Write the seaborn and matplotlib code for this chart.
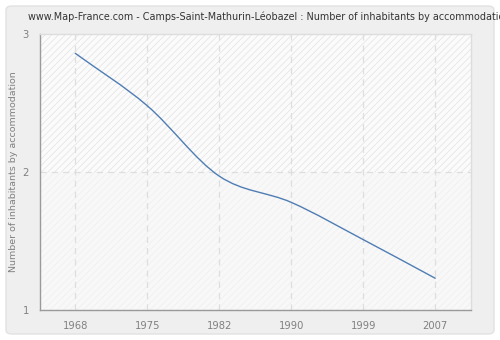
import numpy as np
import pandas as pd
import matplotlib
matplotlib.use("Agg")
import matplotlib.pyplot as plt
from matplotlib.path import Path
from matplotlib.patches import PathPatch, FancyBboxPatch, Rectangle
import seaborn as sns

years = ["1968", "1975", "1982", "1990", "1999", "2007"]
inhabitants = [2.86, 2.48, 1.97, 1.78, 1.51, 1.23]
y_ticks = [1, 2, 3]

title = "www.Map-France.com - Camps-Saint-Mathurin-Léobazel : Number of inhabitants by accommodation"
y_label = "Number of inhabitants by accommodation"

sns.set_theme(style="white")
plt.rcParams["font.family"] = ["DejaVu Sans"]
plt.rcParams["hatch.linewidth"] = 0.6

df = pd.DataFrame({"year": years, "value": inhabitants})

fig = plt.figure(figsize=(5.0, 3.4), dpi=100)
fig.patch.set_facecolor("white")

# rounded light-grey panel behind everything
panel = FancyBboxPatch((6 / 500, 6 / 340), 488 / 500, 328 / 340,
                       boxstyle="round,pad=0,rounding_size=0.012",
                       transform=fig.transFigure, facecolor="#efefef",
                       edgecolor="#e2e2e2", linewidth=1.0, zorder=-10)
fig.add_artist(panel)

ax = fig.add_axes([40 / 500, 30 / 340, 430.5 / 500, 276 / 340])
ax.set_zorder(1)
ax.set_facecolor("#fbfbfb")

sns.lineplot(data=df, x="year", y="value", ax=ax, color="#4f7db3",
             linewidth=1.0, sort=False)

# smooth the drawn line with a Catmull-Rom Bezier through the same points
line = ax.lines[0]
xs = np.asarray(line.get_xdata(), dtype=float)
ys = np.asarray(line.get_ydata(), dtype=float)
h = np.diff(xs)
m = np.zeros_like(ys)
m[0] = (ys[1] - ys[0]) / h[0]
m[-1] = (ys[-1] - ys[-2]) / h[-1]
for i in range(1, len(ys) - 1):
    m[i] = (ys[i + 1] - ys[i - 1]) / (xs[i + 1] - xs[i - 1])
verts = [(xs[0], ys[0])]
codes = [Path.MOVETO]
for i in range(len(xs) - 1):
    verts += [(xs[i] + h[i] / 3, ys[i] + m[i] * h[i] / 3),
              (xs[i + 1] - h[i] / 3, ys[i + 1] - m[i + 1] * h[i] / 3),
              (xs[i + 1], ys[i + 1])]
    codes += [Path.CURVE4] * 3
line.set_visible(False)
ax.add_patch(PathPatch(Path(verts, codes), facecolor="none",
                       edgecolor="#4f7db3", linewidth=1.0, zorder=5,
                       capstyle="round", joinstyle="round"))

ax.set_xlim(-0.49, 5.49)
ax.set_ylim(1, 3)

# hatched background bands
ax.add_patch(Rectangle((-0.49, 2), 5.98, 1, facecolor="#fbfbfb",
                       edgecolor="#e6e6e6", hatch="/////", linewidth=0, zorder=0))
ax.add_patch(Rectangle((-0.49, 1), 5.98, 1, facecolor="#f8f8f8",
                       edgecolor="#f0f0f0", hatch="/////", linewidth=0, zorder=0))

ax.set_yticks(y_ticks)
ax.set_yticklabels([str(v) for v in y_ticks])
ax.set_xticks(range(len(years)))
ax.set_xticklabels(years)

for xv in range(len(years)):
    ax.axvline(xv, color="#dedede", linestyle=(0, (5, 4)), linewidth=0.9, zorder=1)
ax.axhline(2, color="#dedede", linestyle=(0, (5, 4)), linewidth=0.9, zorder=1)

ax.set_xlabel("")
ax.set_ylabel(y_label, color="#808080", fontsize=6.8)
ax.yaxis.set_label_coords(-22 / 430.5, 0.5)
ax.tick_params(axis="both", colors="#888888", labelsize=7.2, length=5,
               width=0.8, direction="out", pad=3)
ax.tick_params(axis="x", labelcolor="#808080")
ax.tick_params(axis="y", labelcolor="#808080")

for side in ["left", "bottom"]:
    ax.spines[side].set_color("#9a9a9a")
    ax.spines[side].set_linewidth(1.0)
for side in ["top", "right"]:
    ax.spines[side].set_visible(True)
    ax.spines[side].set_color("#dddddd")
    ax.spines[side].set_linewidth(1.0)

fig.text(28 / 500, 1 - 17 / 340, title, fontsize=6.9, color="#333333",
         ha="left", va="center")

fig.savefig("out.png", dpi=100)
